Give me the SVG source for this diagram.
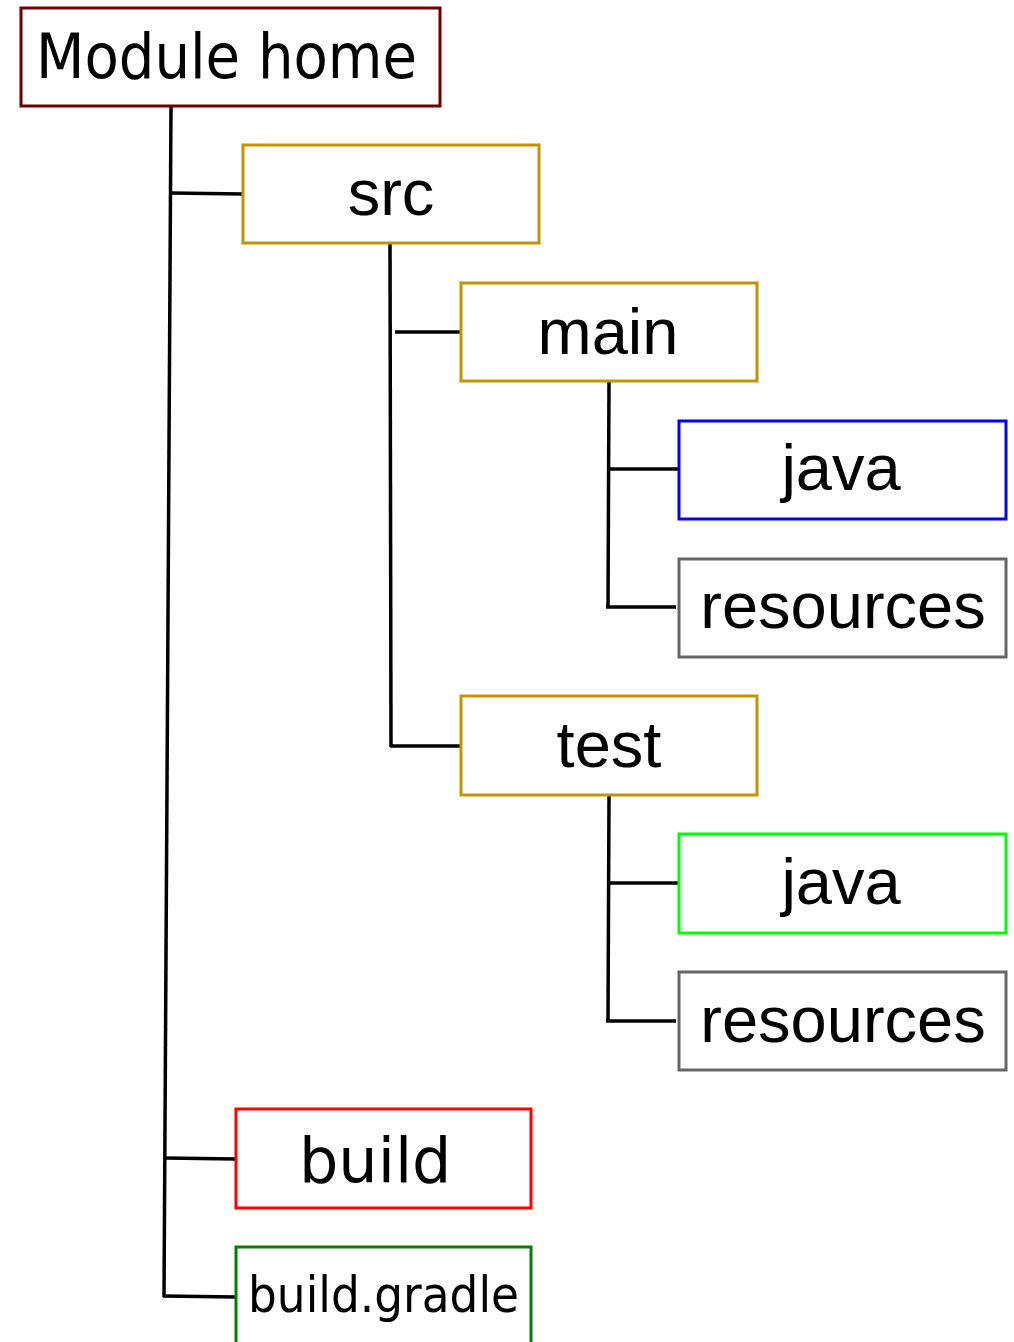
<svg xmlns="http://www.w3.org/2000/svg" width="1014" height="1342" viewBox="0 0 1014 1342">
<style>
.box{fill:#ffffff;stroke-width:3}
.t{font-family:"Liberation Sans",Arial,sans-serif;font-size:65px;fill:#000;text-anchor:middle}
.d{font-family:"DejaVu Sans Condensed","DejaVu Sans",sans-serif;font-stretch:condensed;fill:#000}
.c{fill:none;stroke:#000;stroke-width:3.5}
</style>
<rect width="1014" height="1342" fill="#ffffff"/>
<g id="connectors">
<path class="c" d="M171 106 L164 1297"/>
<path class="c" d="M171 193 L243 194"/>
<path class="c" d="M165 1158 L236 1159"/>
<path class="c" d="M163 1296 L236 1297"/>
<path class="c" d="M390 243 L391 747"/>
<path class="c" d="M395 332 L461 332"/>
<path class="c" d="M390 746 L461 746"/>
<path class="c" d="M609 381 L608 608"/>
<path class="c" d="M609 469 L679 469"/>
<path class="c" d="M606 607 L676 607"/>
<path class="c" d="M609 795 L608 1022"/>
<path class="c" d="M609 883 L679 883"/>
<path class="c" d="M606 1021 L676 1021"/>
</g>
<g id="module-home">
<rect class="box" x="21" y="8" width="419" height="98" stroke="#6e0000"/>
<text class="d" x="36" y="78" font-size="62" textLength="381" lengthAdjust="spacingAndGlyphs">Module home</text>
</g>
<g id="src">
<rect class="box" x="243" y="145" width="296" height="98" stroke="#c49500"/>
<text class="t" x="391" y="215">src</text>
</g>
<g id="main">
<rect class="box" x="461" y="283" width="296" height="98" stroke="#c49500"/>
<text class="t" x="608" y="354">main</text>
</g>
<g id="main-java">
<rect class="box" x="679" y="421" width="327" height="98" stroke="#0000ff"/>
<text class="t" x="841" y="490">java</text>
</g>
<g id="main-resources">
<rect class="box" x="679" y="559" width="327" height="98" stroke="#666666"/>
<text class="t" x="843" y="628">resources</text>
</g>
<g id="test">
<rect class="box" x="461" y="696" width="296" height="99" stroke="#c49500"/>
<text class="t" x="609" y="767">test</text>
</g>
<g id="test-java">
<rect class="box" x="679" y="834" width="327" height="99" stroke="#00ff00"/>
<text class="t" x="841" y="904">java</text>
</g>
<g id="test-resources">
<rect class="box" x="679" y="972" width="327" height="98" stroke="#666666"/>
<text class="t" x="843" y="1042">resources</text>
</g>
<g id="build">
<rect class="box" x="236" y="1109" width="295" height="99" stroke="#ff0000"/>
<text x="299" y="1182" font-family="DejaVu Sans, sans-serif" font-size="62" fill="#000">build</text>
</g>
<g id="build-gradle">
<rect class="box" x="236" y="1247" width="295" height="110" stroke="#008000"/>
<text class="d" x="248" y="1312" font-size="50" textLength="271" lengthAdjust="spacingAndGlyphs">build.gradle</text>
</g>
</svg>
